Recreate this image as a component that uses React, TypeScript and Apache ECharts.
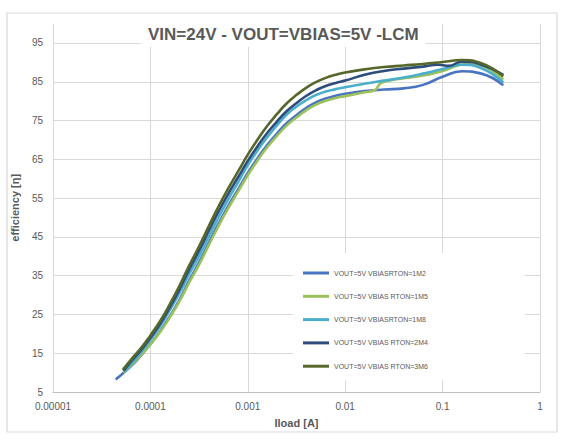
import React, { useEffect, useRef } from "react";
import * as echarts from "echarts";

const titleText = "VIN=24V - VOUT=VBIAS=5V -LCM";
const xTickLabels = ["0.00001", "0.0001", "0.001", "0.01", "0.1", "1"];
const seriesNames = [
  "VOUT=5V VBIASRTON=1M2",
  "VOUT=5V VBIAS RTON=1M5",
  "VOUT=5V VBIASRTON=1M8",
  "VOUT=5V VBIAS RTON=2M4",
  "VOUT=5V VBIAS RTON=3M6",
];
const seriesColors = ["#4a74c2", "#9bc15a", "#4bafcb", "#2f4d7c", "#56672a"];

const iload1M2 = [4.4e-5, 5e-5, 6.3e-5, 8e-5, 1e-4, 1.26e-4, 1.58e-4, 2e-4, 2.5e-4, 3.2e-4, 4e-4, 5e-4, 6.3e-4, 8e-4, 1e-3, 1.26e-3, 1.58e-3, 2e-3, 2.5e-3, 3.2e-3, 4e-3, 5e-3, 6.3e-3, 8e-3, 1e-2, 1.58e-2, 2.5e-2, 4e-2, 6.3e-2, 0.1, 0.158, 0.25, 0.42];
const eff1M2 = [8.2, 9.4, 11.6, 14.4, 17.3, 20.7, 24.5, 28.9, 33.7, 38.7, 43.6, 48.4, 53.0, 57.4, 61.5, 65.3, 68.7, 71.7, 74.3, 76.5, 78.3, 79.7, 80.7, 81.4, 81.9, 82.6, 83.0, 83.3, 84.2, 86.3, 87.7, 87.1, 84.1];

const iload1M5 = [5.3e-5, 6.3e-5, 8e-5, 1e-4, 1.26e-4, 1.58e-4, 2e-4, 2.5e-4, 3.2e-4, 4e-4, 5e-4, 6.3e-4, 8e-4, 1e-3, 1.26e-3, 1.58e-3, 2e-3, 2.5e-3, 3.2e-3, 4e-3, 5e-3, 6.3e-3, 8e-3, 1e-2, 1.58e-2, 2e-2, 2.3e-2, 2.8e-2, 4e-2, 6.3e-2, 0.1, 0.18, 0.25, 0.42];
const eff1M5 = [10, 11.8, 14.5, 17.3, 20.5, 24.2, 28.5, 33.2, 38.1, 43.0, 47.8, 52.4, 56.8, 60.9, 64.7, 68.1, 71.1, 73.7, 75.9, 77.7, 79.1, 80.1, 80.8, 81.3, 82.3, 82.8, 84.6, 85.3, 85.9, 86.6, 87.8, 89.6, 89.1, 85.6];

const iload1M8 = [5.5e-5, 6.3e-5, 8e-5, 1e-4, 1.26e-4, 1.58e-4, 2e-4, 2.5e-4, 3.2e-4, 4e-4, 5e-4, 6.3e-4, 8e-4, 1e-3, 1.26e-3, 1.58e-3, 2e-3, 2.5e-3, 3.2e-3, 4e-3, 5e-3, 6.3e-3, 8e-3, 1e-2, 1.58e-2, 2.5e-2, 4e-2, 6.3e-2, 0.1, 0.158, 0.25, 0.42];
const eff1M8 = [10.3, 12.2, 15.2, 18.4, 22.0, 26.1, 30.6, 35.4, 40.3, 45.2, 50.0, 54.7, 59.2, 63.5, 67.3, 70.7, 73.8, 76.5, 78.7, 80.3, 81.6, 82.5, 83.1, 83.6, 84.5, 85.3, 86.1, 87.1, 88.3, 89.4, 88.5, 84.8];

const iload2M4 = [5.3e-5, 6.3e-5, 8e-5, 1e-4, 1.26e-4, 1.58e-4, 2e-4, 2.5e-4, 3.2e-4, 4e-4, 5e-4, 6.3e-4, 8e-4, 1e-3, 1.26e-3, 1.58e-3, 2e-3, 2.5e-3, 3.2e-3, 4e-3, 5e-3, 6.3e-3, 8e-3, 1e-2, 1.58e-2, 2.5e-2, 4e-2, 6.3e-2, 0.09, 0.115, 0.158, 0.25, 0.42];
const eff2M4 = [10.4, 12.8, 15.8, 19.0, 22.6, 26.8, 31.6, 36.6, 41.7, 46.7, 51.5, 56.1, 60.5, 64.6, 68.4, 71.8, 74.8, 77.4, 79.6, 81.4, 82.8, 83.9, 84.7, 85.3, 86.8, 87.8, 88.4, 88.9, 89.4, 89.1, 90.2, 89.4, 86.8];

const iload3M6 = [5.2e-5, 6.3e-5, 8e-5, 1e-4, 1.26e-4, 1.58e-4, 2e-4, 2.5e-4, 3.2e-4, 4e-4, 5e-4, 6.3e-4, 8e-4, 1e-3, 1.26e-3, 1.58e-3, 2e-3, 2.5e-3, 3.2e-3, 4e-3, 5e-3, 6.3e-3, 8e-3, 1e-2, 1.58e-2, 2.5e-2, 4e-2, 6.3e-2, 0.1, 0.158, 0.25, 0.42];
const eff3M6 = [10.7, 13.3, 16.3, 19.6, 23.3, 27.6, 32.5, 37.6, 42.8, 47.9, 52.8, 57.5, 62.0, 66.2, 70.1, 73.6, 76.7, 79.4, 81.7, 83.5, 84.9, 86.0, 86.8, 87.4, 88.2, 88.8, 89.2, 89.6, 90.1, 90.6, 89.8, 86.4];

const allLoads = [iload1M2, iload1M5, iload1M8, iload2M4, iload3M6];
const allEffs = [eff1M2, eff1M5, eff1M8, eff2M4, eff3M6];

const FONT = "Liberation Sans, Arial, sans-serif";
const GRID_COLOR = "#d9d9d9";
const TEXT_COLOR = "#595959";

export default function App() {
  const ref = useRef<HTMLDivElement>(null);

  useEffect(() => {
    if (!ref.current) return;
    const chart = echarts.init(ref.current, undefined, { renderer: "svg" });

    const series = seriesNames.map((name, i) => ({
      name,
      type: "line",
      data: allLoads[i].map((x, k) => [x, allEffs[i][k]]),
      smooth: 0.5,
      showSymbol: false,
      symbol: "none",
      lineStyle: { width: 2.6, color: seriesColors[i] },
      itemStyle: { color: seriesColors[i] },
      z: 2 + i,
    }));

    chart.setOption({
      animation: false,
      backgroundColor: "#ffffff",
      textStyle: { fontFamily: FONT },
      title: {
        text: titleText,
        left: 141,
        top: 22,
        padding: [2, 7, 3, 7],
        backgroundColor: "#ffffff",
        z: 10,
        textStyle: {
          fontFamily: FONT,
          fontSize: 17,
          fontWeight: "bold",
          color: TEXT_COLOR,
          lineHeight: 20,
        },
      },
      graphic: [
        {
          type: "rect",
          shape: { x: 7, y: 13, width: 550, height: 419 },
          style: { fill: "none", stroke: GRID_COLOR, lineWidth: 1.2 },
          silent: true,
          z: 100,
        },
      ],
      legend: {
        orient: "vertical",
        left: 293,
        top: 253,
        padding: [15, 97, 9, 10],
        backgroundColor: "#ffffff",
        icon: "rect",
        itemWidth: 26,
        itemHeight: 3,
        itemGap: 13.3,
        z: 6,
        data: seriesNames,
        textStyle: {
          fontFamily: FONT,
          fontSize: 7,
          lineHeight: 10,
          color: TEXT_COLOR,
        },
      },
      grid: { left: 53, right: 21, top: 23.6, bottom: 51, containLabel: false },
      xAxis: {
        type: "log",
        logBase: 10,
        min: 1e-5,
        max: 1,
        name: "Iload [A]",
        nameLocation: "middle",
        nameGap: 25,
        nameTextStyle: { fontFamily: FONT, fontSize: 11, fontWeight: "bold", color: TEXT_COLOR },
        axisLine: { show: true, lineStyle: { color: "#bfbfbf", width: 1 } },
        axisTick: { show: false },
        axisLabel: {
          fontFamily: FONT,
          fontSize: 10,
          color: TEXT_COLOR,
          margin: 9,
          formatter: (v: number) => {
            const idx = Math.round(Math.log10(v)) + 5;
            return xTickLabels[idx] ?? "";
          },
        },
        splitLine: { show: true, lineStyle: { color: GRID_COLOR, width: 1 } },
        minorSplitLine: { show: false },
      },
      yAxis: {
        type: "value",
        min: 5,
        max: 100,
        interval: 10,
        name: "efficiency [η]",
        nameLocation: "middle",
        nameGap: 29,
        nameRotate: 90,
        nameTextStyle: { fontFamily: FONT, fontSize: 11, fontWeight: "bold", color: TEXT_COLOR },
        axisLine: { show: false },
        axisTick: { show: false },
        axisLabel: {
          fontFamily: FONT,
          fontSize: 10,
          color: TEXT_COLOR,
          margin: 10,
          showMaxLabel: false,
        },
        splitLine: { show: true, showMaxLine: false, lineStyle: { color: GRID_COLOR, width: 1 } },
      },
      series,
    });

    return () => {
      chart.dispose();
    };
  }, []);

  return (
    <div
      ref={ref}
      style={{ position: "absolute", left: 0, top: 0, width: 561, height: 443 }}
    />
  );
}
